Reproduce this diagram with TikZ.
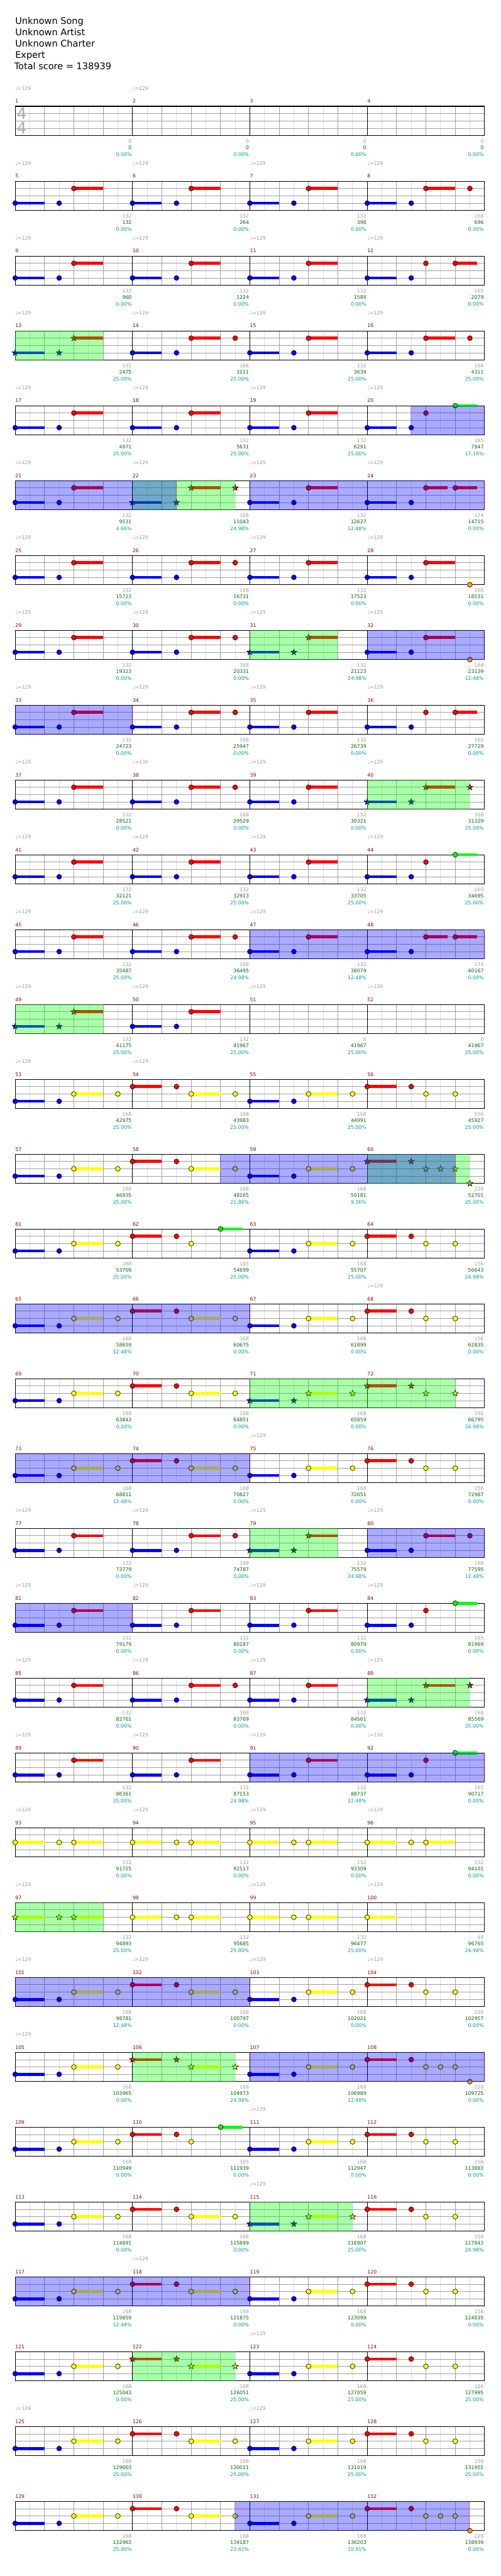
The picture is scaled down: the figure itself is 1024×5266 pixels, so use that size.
\documentclass[tikz,border=0pt]{standalone}
\usepackage{fontspec}
\setmainfont{DejaVu Sans}
\usepackage{tikz}

\definecolor{nred}{RGB}{255,0,0}
\definecolor{nblue}{RGB}{0,0,255}
\definecolor{nyellow}{RGB}{255,255,0}
\definecolor{ngreen}{RGB}{0,255,0}
\definecolor{norange}{RGB}{255,165,0}
\definecolor{lgrid}{RGB}{220,220,220}
\definecolor{mgrid}{RGB}{160,160,160}
\definecolor{numred}{RGB}{139,0,0}
\definecolor{tgray}{RGB}{153,153,153}
\definecolor{tgreen}{RGB}{0,100,0}
\definecolor{tcyan}{RGB}{0,153,153}
\definecolor{tsig}{RGB}{170,170,170}

% note head, sustain, coloured band
\newcommand\starpath{(270:6.5) -- (306:2.6) -- (342:6.5) -- (18:2.6) -- (54:6.5) -- (90:2.6) -- (126:6.5) -- (162:2.6) -- (198:6.5) -- (234:2.6) -- cycle}
\newcommand\nt[3]{\ifnum\st=1 \filldraw[notedraw,fill=#3,shift={({\xo+60*#1},{\ty+15*#2})}] \starpath;\else\filldraw[notedraw,fill=#3] ({\xo+60*#1},{\ty+15*#2}) circle (5);\fi}
\newcommand\sus[4]{\fill[#4] ({\xo+60*#1},{\ty+15*#3-3}) rectangle ({\xo+60*#2},{\ty+15*#3+3});}
\newcommand\region[5]{\fill[#1] ({31+240*mod(#2-1,4)+60*#3},{217.3+153*floor((#2-1)/4)}) rectangle ({31+240*mod(#4-1,4)+60*#5},{277.3+153*floor((#2-1)/4)});}
\newcommand\actmark[3]{\draw[#1] ({31+240*mod(#2-1,4)+60*#3},{217.3+153*floor((#2-1)/4)}) -- ++(0,60);}

% measure patterns
\newcommand\msE{}
\newcommand\msP{\sus{0}{1}{3}{nblue}\sus{2}{3}{1}{nred}\nt{0}{3}{nblue}\nt{1.5}{3}{nblue}\nt{2}{1}{nred}}
\newcommand\msQ{\msP\nt{3.5}{1}{nred}}
\newcommand\msO{\msP\nt{3.5}{4}{norange}}
\newcommand\msR{\sus{0}{1}{3}{nblue}\sus{3}{3.75}{1}{nred}\nt{0}{3}{nblue}\nt{1.5}{3}{nblue}\nt{2}{1}{nred}\nt{3}{1}{nred}}
\newcommand\msS{\sus{0}{1}{3}{nblue}\sus{3}{3.75}{0}{ngreen}\nt{0}{3}{nblue}\nt{1.5}{3}{nblue}\nt{2}{1}{nred}\nt{3}{0}{ngreen}}
\newcommand\msT{\sus{0}{1}{3}{nblue}\sus{2}{2.75}{1}{nred}\sus{3}{3.75}{1}{nred}\nt{0}{3}{nblue}\nt{1.5}{3}{nblue}\nt{2}{1}{nred}\nt{3}{1}{nred}}
\newcommand\msU{\sus{0}{1}{3}{nblue}\sus{2}{3}{2}{nyellow}\nt{0}{3}{nblue}\nt{1.5}{3}{nblue}\nt{2}{2}{nyellow}\nt{3.5}{2}{nyellow}}
\newcommand\msV{\sus{0}{1}{1}{nred}\sus{2}{3}{2}{nyellow}\nt{0}{1}{nred}\nt{1.5}{1}{nred}\nt{2}{2}{nyellow}\nt{3.5}{2}{nyellow}}
\newcommand\msW{\sus{0}{1}{1}{nred}\nt{0}{1}{nred}\nt{1.5}{1}{nred}\nt{2}{2}{nyellow}\nt{3}{2}{nyellow}}
\newcommand\msX{\msW\nt{2.5}{2}{nyellow}\nt{3.5}{4}{norange}}
\newcommand\msY{\sus{0}{1}{1}{nred}\sus{3}{3.75}{0}{ngreen}\nt{0}{1}{nred}\nt{1.5}{1}{nred}\nt{2}{2}{nyellow}\nt{3}{0}{ngreen}}
\newcommand\msZ{\sus{0}{1}{2}{nyellow}\sus{2}{3}{2}{nyellow}\nt{0}{2}{nyellow}\nt{1.5}{2}{nyellow}\nt{2}{2}{nyellow}}
\newcommand\msZa{\sus{0}{1}{2}{nyellow}\nt{0}{2}{nyellow}}

\begin{document}
\begin{tikzpicture}[x=0.75pt,y=0.75pt,yscale=-1,xscale=1,
  halfline/.style={draw=lgrid,line width=0.75pt},
  beatline/.style={draw=mgrid,line width=0.75pt},
  barline/.style={draw=black,line width=1pt},
  notedraw/.style={draw=black,line width=0.6pt},
  sppath/.style={fill=ngreen,fill opacity=0.333},
  actpath/.style={fill=nblue,fill opacity=0.333},
  actend/.style={draw=nred,draw opacity=0.4,line width=0.9pt},
  actstart/.style={draw=nblue,draw opacity=0.5,line width=1pt},
  small/.style={font=\fontsize{7.5}{9}\selectfont,inner sep=0pt},
  titletext/.style={font=\fontsize{14}{17}\selectfont,inner sep=0pt,anchor=base west},
  tsignum/.style={font=\fontsize{24}{24}\selectfont,text=tsig,inner sep=0pt}]

\useasboundingbox (0,0) rectangle (1024,5266);

\node[titletext] (song) at (31,49.3) {Unknown Song};
\node[titletext] (artist) at (31,72.4) {Unknown Artist};
\node[titletext] (charter) at (31,95.5) {Unknown Charter};
\node[titletext] (diff) at (31,118.6) {Expert};
\node[titletext] (total) at (29,141.7) {Total score = 138939};

% staves
\foreach \r in {0,...,32}{
  \pgfmathsetmacro\ty{217.3+153*\r}
  \foreach \k in {1,3,...,31} \draw[halfline] ({31+30*\k},\ty) -- ++(0,60);
  \foreach \k in {1,2,3,5,6,7,9,10,11,13,14,15} \draw[beatline] ({31+60*\k},\ty) -- ++(0,60);
  \foreach \l in {1,2,3} \draw[beatline] (31,{\ty+15*\l}) -- (991,{\ty+15*\l});
  \foreach \k in {4,8,12} \draw[barline] ({31+60*\k},\ty) -- ++(0,60);
  \draw[barline] (31,\ty) rectangle (991,{\ty+60});
}
\node[tsignum] (tsa) at (44.5,232.5) {4};
\node[tsignum] (tsb) at (44.5,262) {4};

% notes
\foreach \m/\k/\st in {1/E/0,2/E/0,3/E/0,4/E/0,5/P/0,6/P/0,7/P/0,8/Q/0,9/P/0,10/P/0,11/P/0,12/R/0,
  13/P/1,14/Q/0,15/P/0,16/Q/0,17/P/0,18/P/0,19/P/0,20/S/0,21/P/0,22/Q/1,23/P/0,24/T/0,
  25/P/0,26/Q/0,27/P/0,28/O/0,29/P/0,30/Q/0,31/P/1,32/O/0,33/P/0,34/Q/0,35/P/0,36/R/0,
  37/P/0,38/Q/0,39/P/0,40/Q/1,41/P/0,42/P/0,43/P/0,44/S/0,45/P/0,46/Q/0,47/P/0,48/T/0,
  49/P/1,50/P/0,51/E/0,52/E/0,53/U/0,54/V/0,55/U/0,56/W/0,57/U/0,58/V/0,59/U/0,60/X/1,
  61/U/0,62/Y/0,63/U/0,64/W/0,65/U/0,66/V/0,67/U/0,68/W/0,69/U/0,70/V/0,71/U/1,72/W/1,
  73/U/0,74/V/0,75/U/0,76/W/0,77/P/0,78/Q/0,79/P/1,80/Q/0,81/P/0,82/P/0,83/P/0,84/S/0,
  85/P/0,86/Q/0,87/P/0,88/Q/1,89/P/0,90/P/0,91/P/0,92/S/0,93/Z/0,94/Z/0,95/Z/0,96/Z/0,
  97/Z/1,98/Z/0,99/Z/0,100/Za/0,101/U/0,102/V/0,103/U/0,104/W/0,105/U/0,106/V/1,107/U/0,108/X/0,
  109/U/0,110/Y/0,111/U/0,112/W/0,113/U/0,114/V/0,115/U/1,116/W/0,117/U/0,118/V/0,119/U/0,120/W/0,
  121/U/0,122/V/1,123/U/0,124/W/0,125/U/0,126/V/0,127/U/0,128/W/0,129/U/0,130/V/0,131/U/0,132/X/0}{
  \pgfmathsetmacro\xo{31+240*mod(\m-1,4)}
  \pgfmathsetmacro\ty{217.3+153*floor((\m-1)/4)}
  \csname ms\k\endcsname
}

% star power phrases and activations
\foreach \a/\b/\c/\d in {13/0/13/3,22/0/22/3.5,31/0/31/3,40/0/40/3.5,49/0/49/3,60/0/60/3.5,71/0/72/3,
  79/0/79/3,88/0/88/3.5,97/0/97/3,106/0/106/3.5,115/0/115/3.5,122/0/122/3.5}{
  \region{sppath}{\a}{\b}{\c}{\d}
}
\foreach \a/\b/\c/\d in {20/1.48/20/4,21/0/22/1.5,23/0/24/4,32/0/32/4,33/0/33/4,47/0/48/4,58/2.99/60/3,
  65/0/66/4,73/0/74/4,80/0/80/4,81/0/81/4,91/0/92/4,101/0/102/4,107/0/108/4,117/0/118/4,130/3.48/132/3.48}{
  \region{actpath}{\a}{\b}{\c}{\d}
}
\foreach \a/\b in {22/1.5,24/4,33/4,48/4,60/3,66/4,74/4,81/4,92/4,102/4,108/4,118/4,132/3.48}{
  \actmark{actend}{\a}{\b}
}
\foreach \a in {64,72,100,116}{
  \actmark{actstart}{\a}{3.99}
}

% tempo marks
\foreach \m/\q in {1/129,2/129,5/129,6/129,7/129,8/129,9/129,10/129,11/129,12/129,13/129,14/129,15/129,16/129,
  17/129,18/129,19/129,20/129,21/129,22/129,23/129,24/129,25/129,26/129,27/129,28/129,29/129,30/129,31/129,32/129,
  33/129,34/129,35/129,36/129,37/129,38/130,39/129,40/129,41/129,42/129,43/129,44/129,45/129,46/129,47/129,48/129,
  49/129,50/129,51/129,52/130,53/129,54/129,68/129,75/129,77/129,78/129,79/129,80/129,81/129,82/129,83/129,84/129,
  85/129,86/129,87/129,88/129,89/129,90/129,91/129,92/130,93/129,94/129,95/129,96/129,97/129,99/129,100/129,
  101/129,102/129,103/129,104/129,105/129,111/129,115/129,118/129,123/129,125/129,127/129}{
  \pgfmathsetmacro\xo{31+240*mod(\m-1,4)}
  \pgfmathsetmacro\ty{217.3+153*floor((\m-1)/4)}
  \node[small,text=tgray,anchor=base west] (tempo\m) at (\xo,{\ty-33.3}) {♩=\q};
}

% measure numbers and scores
\foreach \m/\a/\b/\c in {1/0/0/0.00,2/0/0/0.00,3/0/0/0.00,4/0/0/0.00,
  5/132/132/0.00,6/132/264/0.00,7/132/396/0.00,8/168/696/0.00,
  9/132/960/0.00,10/132/1224/0.00,11/132/1584/0.00,12/165/2079/0.00,
  13/132/2475/25.00,14/168/3111/25.00,15/132/3639/25.00,16/168/4311/25.00,
  17/132/4971/25.00,18/132/5631/25.00,19/132/6291/25.00,20/165/7947/17.16,
  21/132/9531/4.66,22/168/11043/24.98,23/132/12627/12.48,24/174/14715/0.00,
  25/132/15723/0.00,26/168/16731/0.00,27/132/17523/0.00,28/168/18531/0.00,
  29/132/19323/0.00,30/168/20331/0.00,31/132/21123/24.98,32/168/23139/12.48,
  33/132/24723/0.00,34/168/25947/0.00,35/132/26739/0.00,36/165/27729/0.00,
  37/132/28521/0.00,38/168/29529/0.00,39/132/30321/0.00,40/168/31329/25.00,
  41/132/32121/25.00,42/132/32913/25.00,43/132/33705/25.00,44/165/34695/25.00,
  45/132/35487/25.00,46/168/36495/24.98,47/132/38079/12.48,48/174/40167/0.00,
  49/132/41175/25.00,50/132/41967/25.00,51/0/41967/25.00,52/0/41967/25.00,
  53/168/42975/25.00,54/168/43983/25.00,55/168/44991/25.00,56/156/45927/25.00,
  57/168/46935/25.00,58/168/48165/21.86,59/168/50181/9.36,60/228/52701/25.00,
  61/168/53709/25.00,62/165/54699/25.00,63/168/55707/25.00,64/156/56643/24.98,
  65/168/58659/12.48,66/168/60675/0.00,67/168/61899/0.00,68/156/62835/0.00,
  69/168/63843/0.00,70/168/64851/0.00,71/168/65859/0.00,72/156/66795/24.98,
  73/168/68811/12.48,74/168/70827/0.00,75/168/72051/0.00,76/156/72987/0.00,
  77/132/73779/0.00,78/168/74787/0.00,79/132/75579/24.98,80/168/77595/12.48,
  81/132/79179/0.00,82/132/80187/0.00,83/132/80979/0.00,84/165/81969/0.00,
  85/132/82761/0.00,86/168/83769/0.00,87/132/84561/0.00,88/168/85569/25.00,
  89/132/86361/25.00,90/132/87153/24.98,91/132/88737/12.48,92/165/90717/0.00,
  93/132/91725/0.00,94/132/92517/0.00,95/132/93309/0.00,96/132/94101/0.00,
  97/132/94893/25.00,98/132/95685/25.00,99/132/96477/25.00,100/48/96765/24.98,
  101/168/98781/12.48,102/168/100797/0.00,103/168/102021/0.00,104/156/102957/0.00,
  105/168/103965/0.00,106/168/104973/24.98,107/168/106989/12.48,108/228/109725/0.00,
  109/168/110949/0.00,110/165/111939/0.00,111/168/112947/0.00,112/156/113883/0.00,
  113/168/114891/0.00,114/168/115899/0.00,115/168/116907/25.00,116/156/117843/24.98,
  117/168/119859/12.48,118/168/121875/0.00,119/168/123099/0.00,120/156/124035/0.00,
  121/168/125043/0.00,122/168/126051/25.00,123/168/127059/25.00,124/156/127995/25.00,
  125/168/129003/25.00,126/168/130011/25.00,127/168/131019/25.00,128/156/131955/25.00,
  129/168/132963/25.00,130/168/134187/23.41,131/168/136203/10.91,132/228/138939/0.00}{
  \pgfmathsetmacro\xo{31+240*mod(\m-1,4)}
  \pgfmathsetmacro\ty{217.3+153*floor((\m-1)/4)}
  \node[small,text=numred,anchor=base west] (num\m) at (\xo,{\ty-6.5}) {\m};
  \node[small,text=tgray,anchor=base east] (base\m) at ({\xo+238.5},{\ty+75.3}) {\a};
  \node[small,text=tgreen,anchor=base east] (sum\m) at ({\xo+238.5},{\ty+88.3}) {\b};
  \node[small,text=tcyan,anchor=base east] (pct\m) at ({\xo+238.5},{\ty+101.7}) {\c\%};
}

\end{tikzpicture}
\end{document}
